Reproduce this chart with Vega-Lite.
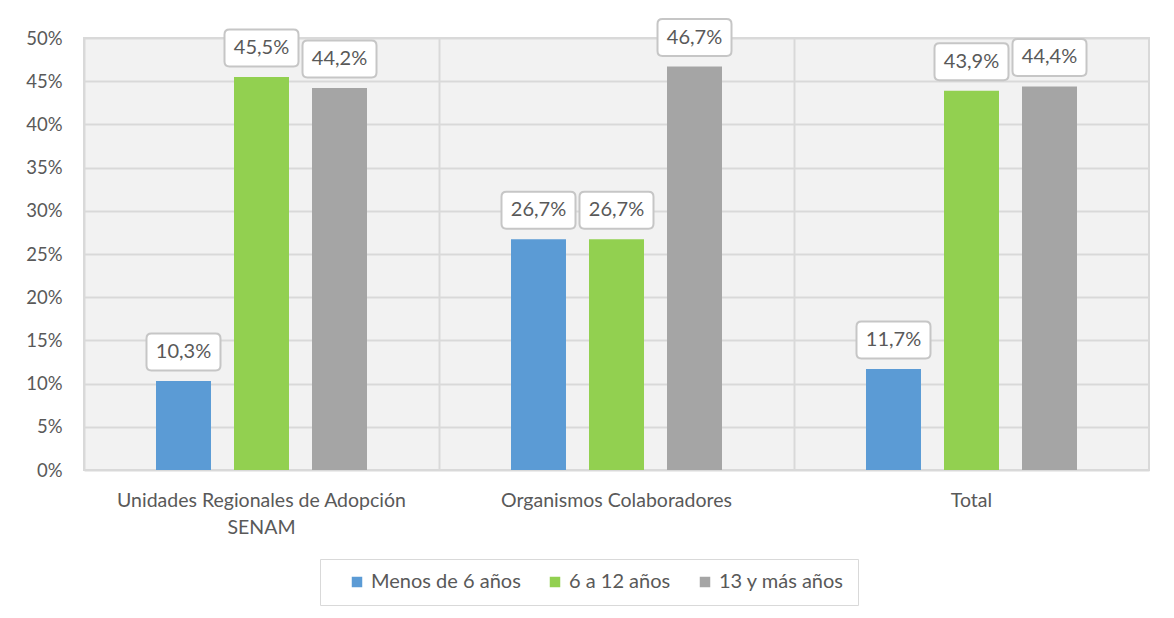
{
  "$schema": "https://vega.github.io/schema/vega-lite/v6.json",
  "width": 1065,
  "height": 432,
  "autosize": {"type": "none"},
  "padding": {"left": 84, "top": 38, "right": 25, "bottom": 148},
  "background": "white",
  "config": {
    "locale": {"number": {"decimal": ",", "thousands": ".", "grouping": [3], "currency": ["", " €"]}},
    "font": "Lato",
    "view": {"stroke": "#d9d9d9", "strokeWidth": 2, "fill": "#f2f2f2"}
  },
  "data": {
    "values": [
      {"categoria": "Unidades Regionales de Adopción SENAM", "grupo": "Menos de 6 años", "valor": 0.103},
      {"categoria": "Unidades Regionales de Adopción SENAM", "grupo": "6 a 12 años", "valor": 0.455},
      {"categoria": "Unidades Regionales de Adopción SENAM", "grupo": "13 y más años", "valor": 0.442},
      {"categoria": "Organismos Colaboradores", "grupo": "Menos de 6 años", "valor": 0.267},
      {"categoria": "Organismos Colaboradores", "grupo": "6 a 12 años", "valor": 0.267},
      {"categoria": "Organismos Colaboradores", "grupo": "13 y más años", "valor": 0.467},
      {"categoria": "Total", "grupo": "Menos de 6 años", "valor": 0.117},
      {"categoria": "Total", "grupo": "6 a 12 años", "valor": 0.439},
      {"categoria": "Total", "grupo": "13 y más años", "valor": 0.444}
    ]
  },
  "encoding": {
    "x": {
      "field": "categoria", "type": "nominal",
      "sort": ["Unidades Regionales de Adopción SENAM", "Organismos Colaboradores", "Total"],
      "scale": {"paddingInner": 0, "paddingOuter": 0},
      "axis": {
        "title": null, "labelAngle": 0, "ticks": false, "domain": false,
        "grid": true, "gridColor": "#d9d9d9", "gridWidth": 2, "bandPosition": 0,
        "labelFontSize": 19.5, "labelColor": "#595959", "labelPadding": 30,
        "labelBaseline": "middle", "labelLineHeight": 27, "labelLimit": 0,
        "labelExpr": "datum.value == 'Unidades Regionales de Adopción SENAM' ? ['Unidades Regionales de Adopción', 'SENAM'] : datum.value"
      }
    },
    "xOffset": {
      "field": "grupo", "type": "nominal",
      "sort": ["Menos de 6 años", "6 a 12 años", "13 y más años"],
      "scale": {"paddingInner": 0.295, "paddingOuter": 0.923}
    },
    "y": {
      "field": "valor", "type": "quantitative",
      "scale": {"domain": [0, 0.5], "nice": false},
      "axis": {
        "title": null, "format": ".0%", "values": [0, 0.05, 0.1, 0.15, 0.2, 0.25, 0.3, 0.35, 0.4, 0.45, 0.5],
        "ticks": false, "domain": false, "gridColor": "#d9d9d9", "gridWidth": 2,
        "labelFontSize": 18.5, "labelColor": "#595959", "labelPadding": 22
      }
    }
  },
  "layer": [
    {
      "mark": {"type": "bar"},
      "encoding": {
        "color": {
          "field": "grupo", "type": "nominal",
          "sort": ["Menos de 6 años", "6 a 12 años", "13 y más años"],
          "scale": {"domain": ["Menos de 6 años", "6 a 12 años", "13 y más años"], "range": ["#5b9bd5", "#92d050", "#a5a5a5"]},
          "legend": {
            "title": null, "orient": "none", "direction": "horizontal",
            "legendX": 236, "legendY": 521,
            "symbolType": "square", "symbolSize": 110, "symbolStrokeWidth": 0,
            "labelFontSize": 20, "labelColor": "#595959", "labelOffset": 4,
            "columnPadding": 10, "padding": 13, "symbolOffset": 14,
            "strokeColor": "#d9d9d9", "fillColor": "white"
          }
        }
      }
    },
    {
      "mark": {
        "type": "point", "filled": true, "fill": "white", "stroke": "#c6c6c6", "strokeWidth": 2, "opacity": 1,
        "shape": "M-0.865,-0.5 L0.865,-0.5 Q1,-0.5 1,-0.365 L1,0.365 Q1,0.5 0.865,0.5 L-0.865,0.5 Q-1,0.5 -1,0.365 L-1,-0.365 Q-1,-0.5 -0.865,-0.5 Z",
        "size": 5476, "yOffset": -29
      },
      "encoding": {}
    },
    {
      "mark": {"type": "text", "fontSize": 20, "color": "#595959", "yOffset": -29, "baseline": "middle"},
      "encoding": {"text": {"field": "valor", "type": "quantitative", "format": ".1%"}}
    }
  ]
}
